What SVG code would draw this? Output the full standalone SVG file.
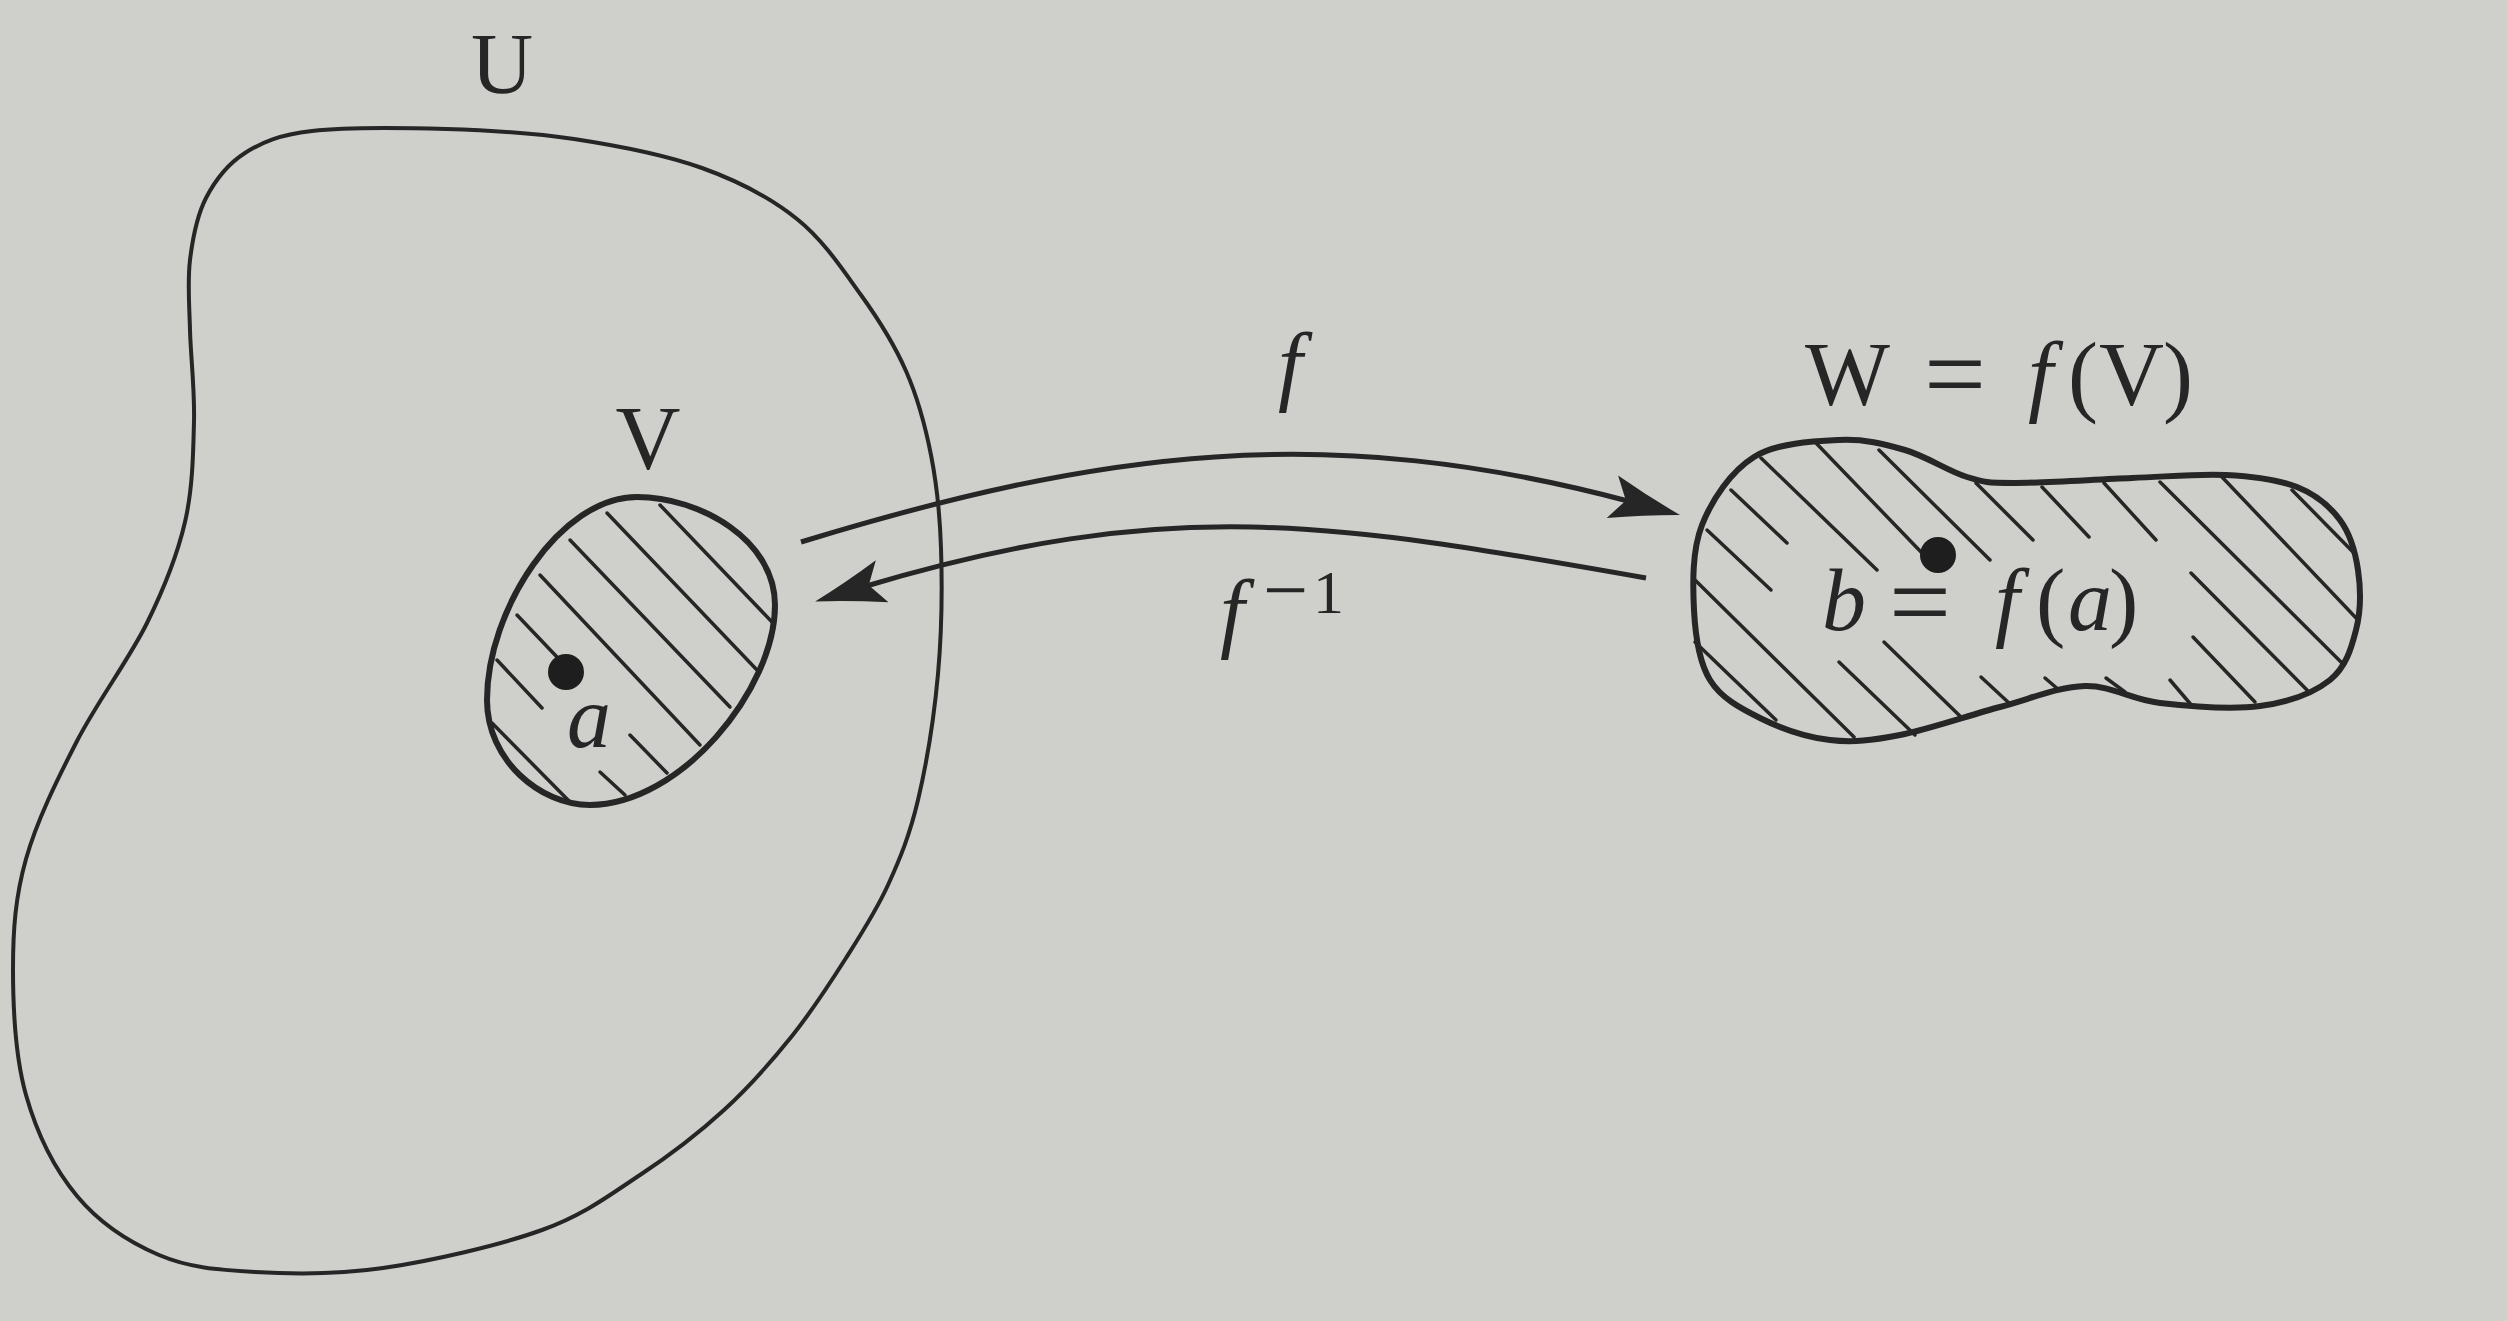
<svg xmlns="http://www.w3.org/2000/svg" width="2507" height="1321" viewBox="0 0 2507 1321">
<style>
.outline{fill:none;stroke:#262626;stroke-linejoin:round}
.hatch{stroke:#262626;stroke-width:3.5;stroke-linecap:round;fill:none}
.dot{fill:#1e1e1e}
.arc{fill:none;stroke:#262626;stroke-width:5}
.rm{font-family:"Liberation Serif","Times New Roman",serif;fill:#262626}
.it{font-family:"Liberation Serif","Times New Roman",serif;font-style:italic;fill:#262626}
</style>
<defs>
<marker id="head" markerUnits="userSpaceOnUse" viewBox="-75 -26 80 52" markerWidth="80" markerHeight="52" refX="-50" refY="0" orient="auto">
<path d="M0,0 Q-34,-9 -70,-22 L-56,0 L-70,22 Q-34,9 0,0 Z" fill="#262626"/>
</marker>
</defs>
<rect x="0" y="0" width="2507" height="1321" fill="#cfd0cc"/>

<g id="node-U">
<path class="outline" stroke-width="4" d="M312,131 C345.5,127 402.3,127.7 446,129 C489.7,130.3 531.3,132.5 574,139 C616.7,145.5 664.8,154.7 702,168 C739.2,181.3 770.5,197.8 797,219 C823.5,240.2 842.8,269.7 861,295 C879.2,320.3 894.3,344.3 906,371 C917.7,397.7 925.2,425.5 931,455 C936.8,484.5 939.8,511.5 941,548 C942.2,584.5 941.8,632 938,674 C934.2,716 926.3,764.8 918,800 C909.7,835.2 900,858.7 888,885 C876,911.3 862,932.8 846,958 C830,983.2 812.3,1010.7 792,1036 C771.7,1061.3 749.3,1086.8 724,1110 C698.7,1133.2 670.3,1155 640,1175 C609.7,1195 584.8,1214.5 542,1230 C499.2,1245.5 430.8,1261 383,1268 C335.2,1275 292.3,1274.2 255,1272 C217.7,1269.8 188.7,1267.7 159,1255 C129.3,1242.3 99.2,1222.7 77,1196 C54.8,1169.3 36.7,1132.8 26,1095 C15.3,1057.2 13,1008.3 13,969 C13,929.7 15.3,897 26,859 C36.7,821 56.8,780.3 77,741 C97.2,701.7 129,659.5 147,623 C165,586.5 177.2,555.7 185,522 C192.8,488.3 193.2,453 194,421 C194.8,389 190.7,356.8 190,330 C189.3,303.2 187.3,282 190,260 C192.7,238 196.8,215.8 206,198 C215.2,180.2 227.3,164.2 245,153 C262.7,141.8 278.5,135 312,131 Z"/>
<text class="rm" x="502" y="93" font-size="86" text-anchor="middle">U</text>
</g>

<g id="node-V">
<g class="hatch">
<line x1="660" y1="505" x2="772" y2="622"/>
<line x1="607" y1="513" x2="757" y2="670"/>
<line x1="570" y1="540" x2="730" y2="707"/>
<line x1="540" y1="575" x2="700" y2="745"/>
<line x1="517" y1="615" x2="557" y2="657"/>
<line x1="497" y1="660" x2="542" y2="708"/>
<line x1="492" y1="723" x2="570" y2="802"/>
<line x1="630" y1="735" x2="667" y2="773"/>
<line x1="600" y1="772" x2="625" y2="795"/>
</g>
<path class="outline" stroke-width="6" d="M637,497 C700,497 775,540 775,605 C775,690 680,805 590,805 C540,805 487,760 487,700 C487,610 560,497 637,497 Z"/>
<circle class="dot" cx="566" cy="672" r="18"/>
<text class="rm" x="648" y="469" font-size="90" text-anchor="middle">V</text>
<text class="it" x="567" y="747" font-size="88">a</text>
</g>

<g id="node-W">
<g class="hatch">
<line x1="1731" y1="490" x2="1787" y2="543"/>
<line x1="1761" y1="458" x2="1877" y2="570"/>
<line x1="1816" y1="443" x2="1922" y2="553"/>
<line x1="1879" y1="450" x2="1990" y2="560"/>
<line x1="1976" y1="483" x2="2033" y2="540"/>
<line x1="2042" y1="487" x2="2089" y2="537"/>
<line x1="2104" y1="483" x2="2156" y2="540"/>
<line x1="2160" y1="482" x2="2344" y2="665"/>
<line x1="2222" y1="477" x2="2358" y2="620"/>
<line x1="2292" y1="490" x2="2354" y2="553"/>
<line x1="1707" y1="530" x2="1771" y2="590"/>
<line x1="1695" y1="580" x2="1854" y2="737"/>
<line x1="1695" y1="642" x2="1776" y2="720"/>
<line x1="1839" y1="662" x2="1915" y2="735"/>
<line x1="1884" y1="642" x2="1962" y2="718"/>
<line x1="1981" y1="677" x2="2009" y2="703"/>
<line x1="2045" y1="678" x2="2059" y2="690"/>
<line x1="2106" y1="678" x2="2125" y2="692"/>
<line x1="2170" y1="680" x2="2193" y2="707"/>
<line x1="2193" y1="637" x2="2255" y2="702"/>
<line x1="2191" y1="573" x2="2307" y2="690"/>
</g>
<path class="outline" stroke-width="6" d="M1754,457 C1776.8,442.8 1813.8,441.2 1839,440 C1864.2,438.8 1883.7,443.8 1905,450 C1926.3,456.2 1948.8,471.5 1967,477 C1985.2,482.5 1986.5,482.8 2014,483 C2041.5,483.2 2096.7,479.3 2132,478 C2167.3,476.7 2198.5,473.5 2226,475 C2253.5,476.5 2278,479.5 2297,487 C2316,494.5 2329.8,506.2 2340,520 C2350.2,533.8 2355.3,551.7 2358,570 C2360.7,588.3 2360.7,611.7 2356,630 C2351.3,648.3 2346,667.3 2330,680 C2314,692.7 2288.3,702.2 2260,706 C2231.7,709.8 2189.2,706.3 2160,703 C2130.8,699.7 2111.7,685.3 2085,686 C2058.3,686.7 2030.8,698.8 2000,707 C1969.2,715.2 1928.3,729.5 1900,735 C1871.7,740.5 1853.3,742.8 1830,740 C1806.7,737.2 1780,728 1760,718 C1740,708 1721,698 1710,680 C1699,662 1695.3,635.8 1694,610 C1692.7,584.2 1692,550.5 1702,525 C1712,499.5 1731.2,471.2 1754,457 Z"/>
<circle class="dot" cx="1938" cy="555" r="18"/>
<text class="rm" font-size="90" y="405"><tspan x="1805">W</tspan><tspan x="1924" y="411" font-size="110">=</tspan><tspan class="it" x="2028" y="405">f</tspan><tspan x="2068">(</tspan><tspan x="2099">V</tspan><tspan x="2163">)</tspan></text>
<text class="rm" font-size="88" y="630"><tspan class="it" x="1822">b</tspan><tspan x="1889" y="639" font-size="110">=</tspan><tspan class="it" x="1995" y="630">f</tspan><tspan x="2036">(</tspan><tspan class="it" x="2068">a</tspan><tspan x="2109">)</tspan></text>
</g>

<g id="connectors">
<path id="edge-f" class="arc" marker-end="url(#head)" d="M801,542 C1102,450 1327.4,420.4 1631.7,502"/>
<path id="edge-finv" class="arc" marker-end="url(#head)" d="M1646,578 C1330.8,522.3 1169.6,494.8 863,587"/>
<text class="it" x="1278" y="394" font-size="88">f</text>
<text class="rm" font-size="88" y="641"><tspan class="it" x="1220">f</tspan><tspan x="1263" y="617" font-size="80">−</tspan><tspan x="1313" y="613" font-size="62">1</tspan></text>
</g>
</svg>
